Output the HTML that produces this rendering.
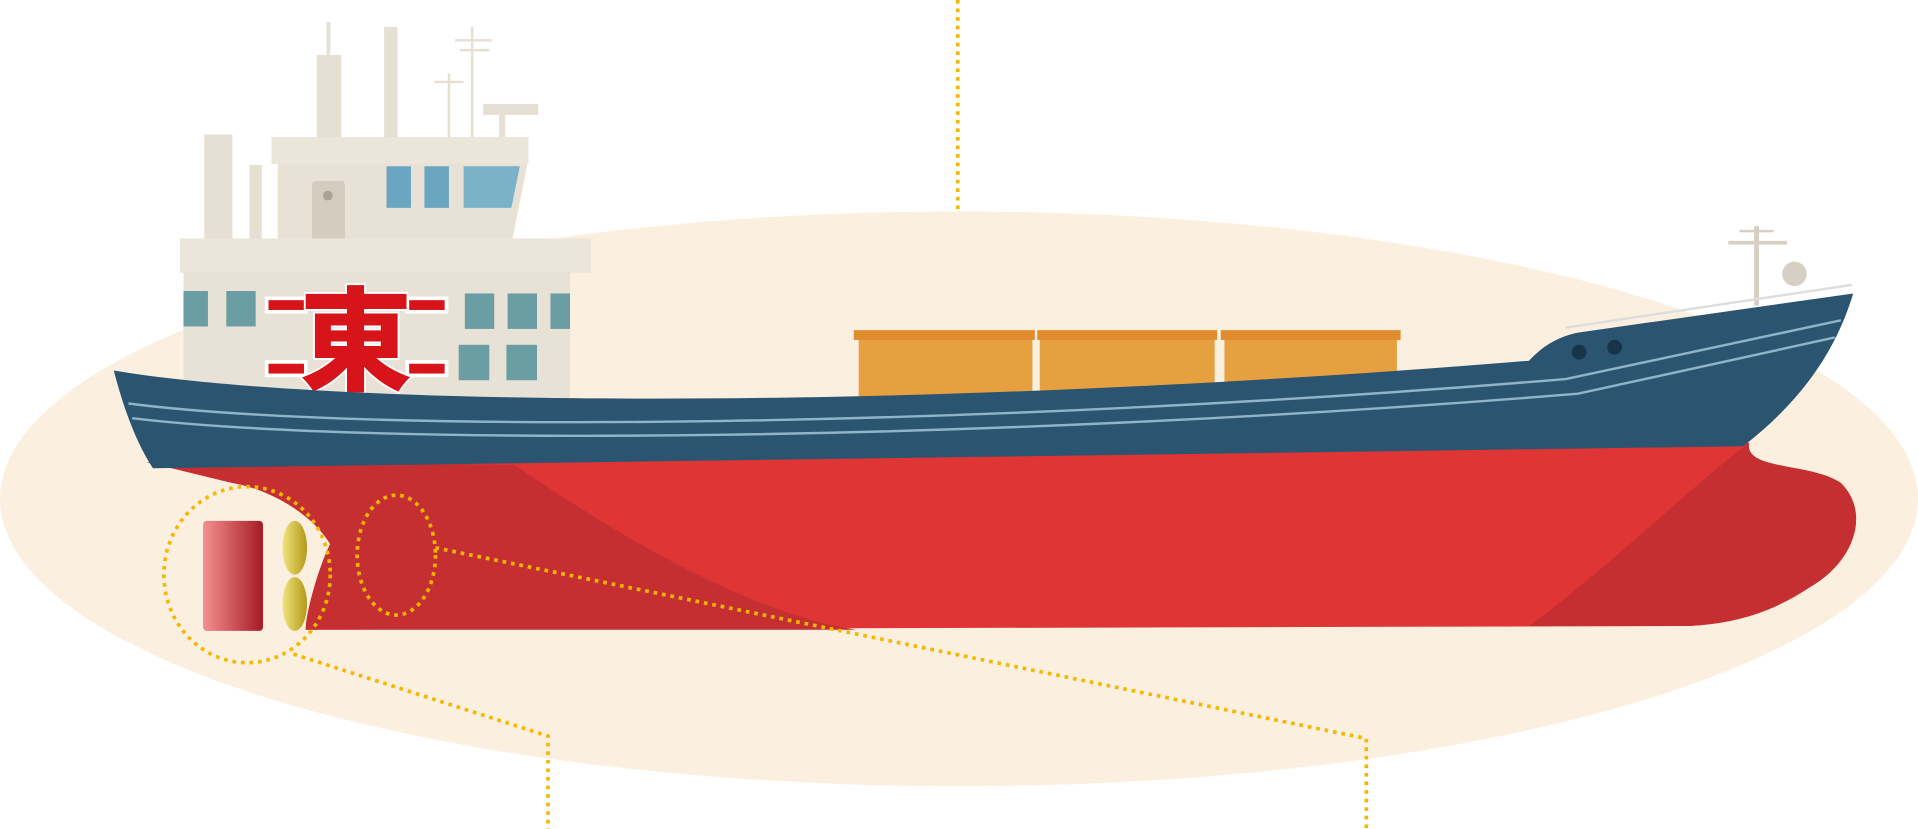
<!DOCTYPE html>
<html><head><meta charset="utf-8"><style>
html,body{margin:0;padding:0;background:#fff;width:1918px;height:829px;overflow:hidden}
svg{display:block}
</style></head><body>
<svg width="1918" height="829" viewBox="0 0 1568 678" preserveAspectRatio="none" xmlns="http://www.w3.org/2000/svg">
<ellipse cx="784" cy="408" rx="784" ry="235" fill="#fbefe0"/>
<line x1="783" y1="0" x2="783" y2="172" stroke="#f5b800" stroke-width="3" stroke-dasharray="3,4"/>
<g fill="#e6dfd4">
<rect x="259" y="45" width="20" height="70"/><rect x="267" y="18" width="3" height="30"/>
<rect x="314" y="22" width="11" height="93"/>
<rect x="366" y="60" width="2" height="55"/><rect x="355" y="66" width="24" height="2"/>
<rect x="385" y="22" width="2" height="93"/><rect x="372" y="32" width="30" height="2"/><rect x="376" y="40" width="24" height="2"/>
<rect x="395" y="85" width="45" height="9"/><rect x="408" y="92" width="5" height="23"/>
<rect x="167" y="110" width="23" height="90"/><rect x="204" y="135" width="10" height="65"/>
</g>
<polygon points="227,130 432,130 418,200 227,200" fill="#e8e1d5"/>
<rect x="222" y="112" width="210" height="22" fill="#ebe5da"/>
<rect x="255" y="148" width="27" height="50" rx="3" fill="#d4ccbf"/>
<circle cx="268" cy="160" r="4" fill="#a9a297"/>
<rect x="316" y="136" width="20" height="34" fill="#6aa6bf"/>
<rect x="347" y="136" width="20" height="34" fill="#6aa6bf"/>
<polygon points="379,136 425,136 418,170 379,170" fill="#7ab3c8"/>
<rect x="147" y="195" width="336" height="28" fill="#ebe5da"/>
<rect x="150" y="222" width="316" height="115" fill="#e8e1d5"/>
<g fill="#6a9ea4">
<rect x="150" y="238" width="20" height="29"/><rect x="185" y="238" width="24" height="29"/>
<rect x="380" y="240" width="24" height="29"/><rect x="415" y="240" width="24" height="29"/><rect x="450" y="240" width="16" height="29"/>
<rect x="375" y="282" width="25" height="29"/><rect x="414" y="282" width="25" height="29"/>
</g>
<g stroke="#fff" stroke-width="3" fill="#d7141a">
<rect x="218" y="244" width="32" height="11"/><rect x="218" y="296" width="32" height="11"/>
<rect x="333" y="244" width="32" height="11"/><rect x="333" y="296" width="32" height="11"/>
</g>
<text x="291" y="312" text-anchor="middle" font-family="'Liberation Sans','Noto Sans CJK JP',sans-serif" font-weight="900" font-size="92" fill="#d7141a" stroke="#fff" stroke-width="3" paint-order="stroke">東</text>
<g fill="#e6a040">
<rect x="702" y="276" width="142" height="60"/><rect x="850" y="276" width="143" height="60"/><rect x="1001" y="276" width="141" height="60"/>
</g>
<g fill="#e08b2e">
<rect x="698" y="270" width="148" height="8"/><rect x="848" y="270" width="147" height="8"/><rect x="998" y="270" width="147" height="8"/>
</g>
<rect x="1434" y="185" width="4" height="65" fill="#d6cfc3"/><rect x="1413" y="197" width="48" height="3" fill="#d6cfc3"/><rect x="1422" y="188" width="28" height="2" fill="#d6cfc3"/>
<circle cx="1467" cy="224" r="10" fill="#d6cfc3"/>
<line x1="1280" y1="268" x2="1514" y2="233" stroke="#ddd" stroke-width="2"/>
<path d="M120,378 L1430,362 C1425,385 1480,378 1505,395 C1530,420 1515,460 1480,480 C1450,500 1420,510 1380,512 L250,515 C250,500 262,460 270,445 C255,420 220,400 190,395 Z" fill="#e03535"/>
<path d="M120,378 L420,380 C480,420 600,500 700,515 L250,515 C250,500 262,460 270,445 C255,420 220,400 190,395 Z" fill="#c52f31"/>
<path d="M1430,362 C1425,385 1480,378 1505,395 C1530,420 1515,460 1480,480 C1450,500 1420,510 1380,512 L1250,512 C1320,460 1380,400 1430,362Z" fill="#c52f31"/>
<path d="M93,303 C250,330 700,340 1250,295 C1262,282 1275,275 1290,272 L1515,240 C1500,290 1470,330 1425,365 L125,383 C110,360 100,330 93,303Z" fill="#2b5470"/>
<g fill="none" stroke="#8fb3c8" stroke-width="2">
<path d="M105,330 C300,355 800,350 1280,310 L1505,262"/>
<path d="M108,342 C300,365 800,362 1290,322 L1500,276"/>
</g>
<circle cx="1291" cy="288" r="6" fill="#17344a"/><circle cx="1320" cy="284" r="6" fill="#17344a"/>
<defs><linearGradient id="rg" x1="0" x2="1"><stop offset="0" stop-color="#f58f8f"/><stop offset="1" stop-color="#a51c25"/></linearGradient>
<linearGradient id="pg" x1="0" x2="1"><stop offset="0" stop-color="#f3e27a"/><stop offset="1" stop-color="#b39a1a"/></linearGradient></defs>
<rect x="166" y="426" width="49" height="90" rx="3" fill="url(#rg)"/>
<ellipse cx="241" cy="448" rx="10" ry="22" fill="url(#pg)"/>
<ellipse cx="241" cy="494" rx="10" ry="22" fill="url(#pg)"/>
<g fill="none" stroke="#f5b800" stroke-width="3" stroke-dasharray="3,4">
<ellipse cx="202" cy="470" rx="68" ry="72"/>
<ellipse cx="324" cy="454" rx="32" ry="49"/>
<polyline points="240,535 448,602 448,678"/>
<polyline points="356,448 1117,604 1117,678"/>
</g>
</svg>
</body></html>
